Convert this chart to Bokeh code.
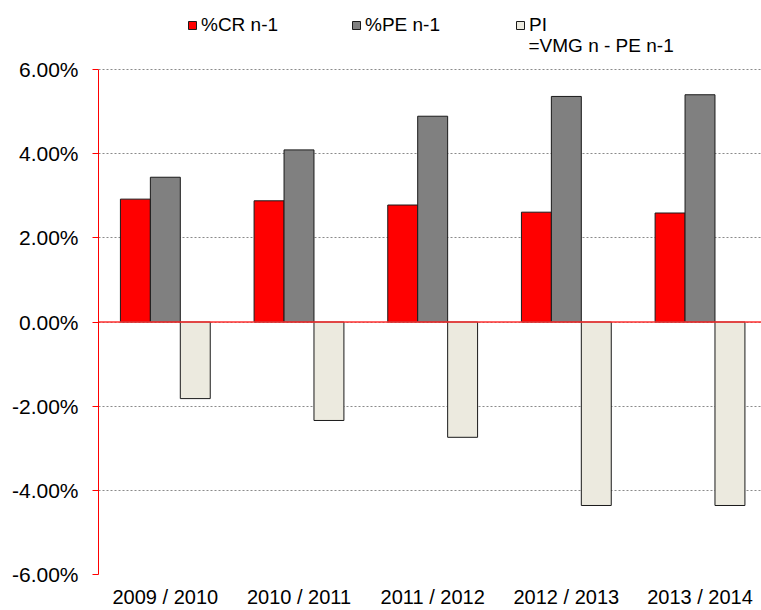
from bokeh.plotting import figure
from bokeh.models import (ColumnDataSource, Legend, LegendItem, FixedTicker,
                          NumeralTickFormatter, Span, Label, Range1d)
from bokeh.transform import dodge
from bokeh.embed import file_html
from bokeh.resources import INLINE

# ---- data ----
categories = ["2009 / 2010", "2010 / 2011", "2011 / 2012", "2012 / 2013", "2013 / 2014"]
cr_n1 = [0.0292, 0.0288, 0.0278, 0.0261, 0.0259]
pe_n1 = [0.0344, 0.0409, 0.0489, 0.0536, 0.0540]
pi_vals = [-0.0182, -0.0234, -0.0274, -0.0436, -0.0436]
y_ticks = [-0.06, -0.04, -0.02, 0.0, 0.02, 0.04, 0.06]
series_labels = ["%CR n-1", "%PE n-1", "PI", "=VMG n - PE n-1"]

x_pos = [i + 0.5 for i in range(len(categories))]
src = ColumnDataSource(data=dict(x=x_pos, cr=cr_n1, pe=pe_n1, pi=pi_vals))

FONT = "Liberation Sans"
BW = 0.224

# the frame reaches the top of the canvas so the legend sits inside it;
# the axis itself is bounded to -6% .. 6%
p = figure(frame_width=663, frame_height=574, output_backend="svg",
           toolbar_location=None, x_range=Range1d(0, 4.96),
           y_range=Range1d(-0.06, 0.0764),
           min_border_left=98, min_border_right=0, min_border_top=0,
           min_border_bottom=36)
p.outline_line_color = None
p.background_fill_color = "white"
p.border_fill_color = "white"

r1 = p.vbar(x=dodge("x", -BW), top="cr", width=BW, source=src,
            fill_color="#FF0000", line_color="#1a1a1a", line_width=1)
r2 = p.vbar(x=dodge("x", 0), top="pe", width=BW, source=src,
            fill_color="#808080", line_color="#1a1a1a", line_width=1)
r3 = p.vbar(x=dodge("x", BW), top="pi", width=BW, source=src,
            fill_color="#ECEADF", line_color="#1a1a1a", line_width=1)

p.add_layout(Span(location=0, dimension="width", line_color="#FF3030", line_width=1.3))

# y axis
p.yaxis.bounds = (-0.06, 0.06)
p.yaxis.ticker = FixedTicker(ticks=y_ticks)
p.yaxis.formatter = NumeralTickFormatter(format="0.00%")
p.yaxis.axis_line_color = "#FF0000"
p.yaxis.major_tick_line_color = "#FF0000"
p.yaxis.major_tick_out = 6
p.yaxis.major_tick_in = 0
p.yaxis.minor_tick_line_color = None
p.yaxis.major_label_standoff = 14
p.yaxis.major_label_text_font = FONT
p.yaxis.major_label_text_font_size = "21px"
p.yaxis.major_label_text_color = "black"

# x axis
p.xaxis.ticker = FixedTicker(ticks=x_pos)
p.xaxis.major_label_overrides = {x: c for x, c in zip(x_pos, categories)}
p.xaxis.axis_line_color = None
p.xaxis.major_tick_line_color = None
p.xaxis.minor_tick_line_color = None
p.xaxis.major_label_standoff = 5
p.xaxis.major_label_text_font = FONT
p.xaxis.major_label_text_font_size = "20px"
p.xaxis.major_label_text_color = "black"

# grid
p.xgrid.grid_line_color = None
p.ygrid.ticker = FixedTicker(ticks=y_ticks)
p.ygrid.grid_line_color = "#8a8a8a"
p.ygrid.grid_line_dash = "2 2"
p.ygrid.grid_line_width = 1

legend = Legend(items=[LegendItem(label=series_labels[0], renderers=[r1]),
                       LegendItem(label=series_labels[1], renderers=[r2]),
                       LegendItem(label=series_labels[2], renderers=[r3])],
                orientation="horizontal", location=(89, 538),
                padding=0, margin=0, spacing=50, label_width=100,
                glyph_width=10, glyph_height=10, label_standoff=4,
                border_line_color=None, background_fill_alpha=0,
                label_text_font=FONT, label_text_font_size="19px",
                label_text_color="black")
p.add_layout(legend, "center")

p.add_layout(Label(x=3.217, y=0.0657, text=series_labels[3], text_font=FONT,
                   text_font_size="19px", text_baseline="middle",
                   text_color="black"))

open("out.html", "w").write(file_html(p, INLINE))
